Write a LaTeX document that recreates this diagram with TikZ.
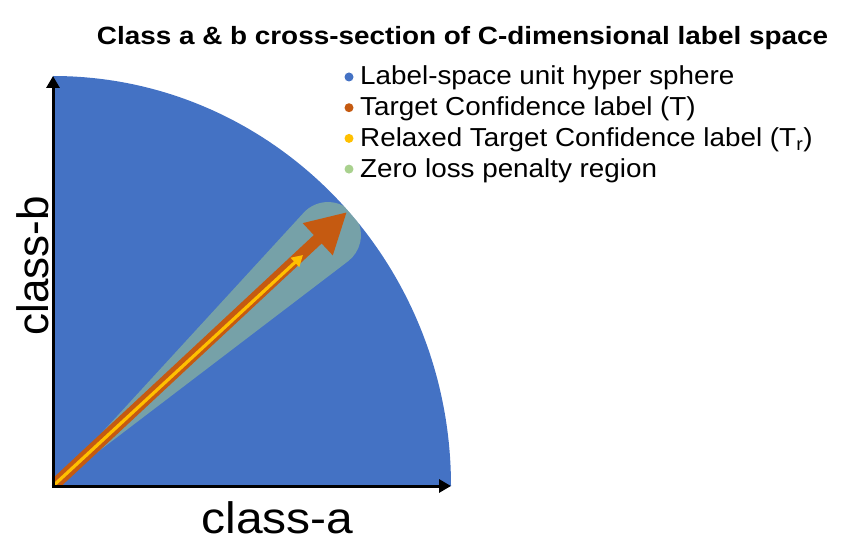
\documentclass[tikz,border=0pt]{standalone}
\usepackage{fontspec}
\setmainfont{Liberation Sans}
\usetikzlibrary{arrows.meta}
\definecolor{sphereblue}{HTML}{4472C4}
\definecolor{torange}{HTML}{C55A11}
\definecolor{tyellow}{HTML}{FFC000}
\definecolor{zgreen}{HTML}{A9D18E}
\begin{document}
\begin{tikzpicture}[x=1pt,y=-1pt,
  axisline/.style={line width=3pt,-{Triangle[length=12pt,width=13pt]}},
  legtext/.style={anchor=base west, inner sep=0pt, font=\fontsize{26}{26}\selectfont},
  legdot/.style={circle, inner sep=0pt, minimum size=9pt},
  bigtext/.style={inner sep=0pt, font=\fontsize{44}{44}\selectfont}]
\useasboundingbox (0,0) rectangle (851,545);
\coordinate (O) at (53,486);
\coordinate (vtop) at (53,76);
\coordinate (hend) at (451,486);
\coordinate (tipT) at (347,212);
\coordinate (tipR) at (303,255);
\coordinate (capA) at (303.7,212.7);
% label-space quarter sphere
\fill[sphereblue] (O) -- (vtop) arc[start angle=90,end angle=0,x radius=398pt,y radius=410pt] -- cycle;
\begin{scope}
  \clip (O) -- (vtop) arc[start angle=90,end angle=0,x radius=398pt,y radius=410pt] -- cycle;
  % zero loss penalty region
  \fill[zgreen, opacity=0.5] (O) -- (capA) arc[start angle=137.36,end angle=-52.82,radius=33pt] -- cycle;
  % target label
  \draw[torange, line width=11.5pt, -{Triangle[length=40pt,width=41pt]}] (O) -- (tipT);
  % relaxed target label
  \draw[tyellow, line width=3.2pt, -{Triangle[length=11pt,width=12pt]}] (O) -- (tipR);
\end{scope}
% axes
\draw[axisline] (53,487.5) -- (vtop);
\draw[axisline] (51.5,486) -- (hend);
% labels
\node[bigtext, anchor=base] (xlab) at (277.5,533) {\scalebox{1.09}[1]{class-a}};
\node[bigtext, rotate=90, anchor=base] (ylab) at (48,266) {class-b};
\node[anchor=base, inner sep=0pt, font=\bfseries\fontsize{25}{25}\selectfont] (title) at (462.5,45)
  {\scalebox{1.115}[1]{Class a \& b cross-section of C-dimensional label space}};
% legend
\node[legdot, fill=sphereblue] (d1) at (349,77) {};
\node[legdot, fill=torange] (d2) at (349,107.7) {};
\node[legdot, fill=tyellow] (d3) at (349,138.4) {};
\node[legdot, fill=zgreen] (d4) at (349,169.1) {};
\node[legtext] (l1) at (360,85) {\scalebox{1.07}[1]{Label-space unit hyper sphere}};
\node[legtext] (l2) at (360,115.7) {\scalebox{1.07}[1]{Target Confidence label (T)}};
\node[legtext] (l3) at (360,146.4) {\scalebox{1.07}[1]{Relaxed Target Confidence label (T\textsubscript{r})}};
\node[legtext] (l4) at (360,177.1) {\scalebox{1.07}[1]{Zero loss penalty region}};
\end{tikzpicture}
\end{document}
